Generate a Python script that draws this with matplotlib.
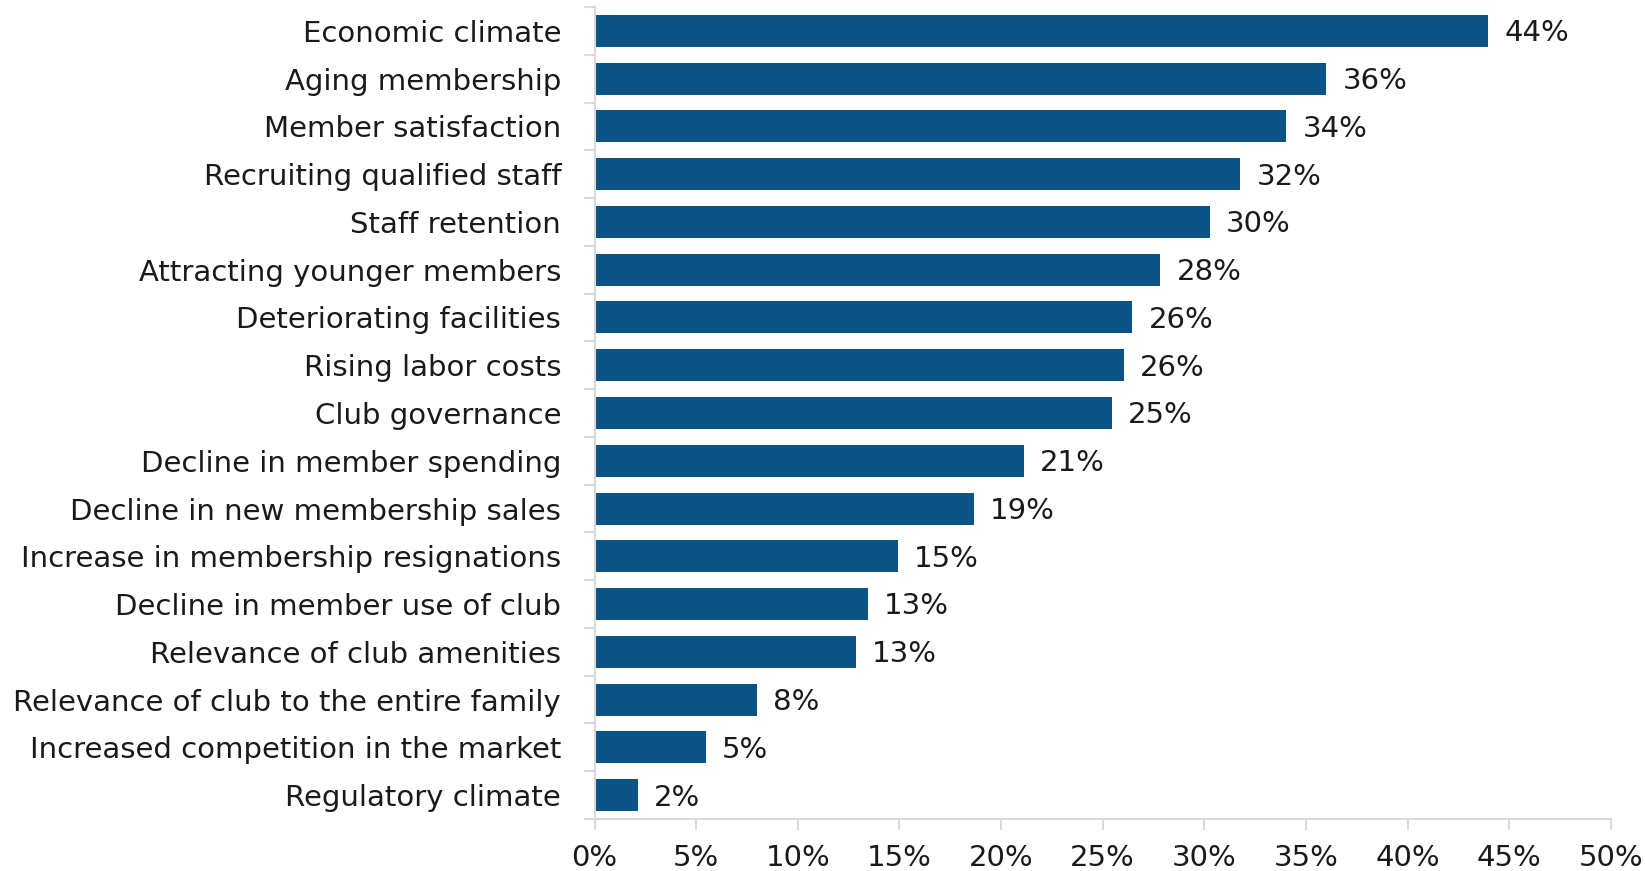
import numpy as np
import matplotlib.pyplot as plt
from matplotlib.ticker import FixedLocator, PercentFormatter

plt.rcParams['font.family'] = ['DejaVu Sans']

categorias = ['Economic climate', 'Aging membership', 'Member satisfaction',
              'Recruiting qualified staff', 'Staff retention',
              'Attracting younger members', 'Deteriorating facilities',
              'Rising labor costs', 'Club governance',
              'Decline in member spending', 'Decline in new membership sales',
              'Increase in membership resignations',
              'Decline in member use of club', 'Relevance of club amenities',
              'Relevance of club to the entire family',
              'Increased competition in the market', 'Regulatory climate']
valores = [43.96, 36.0, 34.04, 31.77, 30.27, 27.84, 26.45, 26.03, 25.46,
           21.13, 18.65, 14.93, 13.43, 12.86, 8.0, 5.48, 2.12]

azul = '#0b5384'
gris = '#d9d9d9'
texto = '#1a1a1a'
tam = 21

fig = plt.figure(figsize=(16.45, 8.71), dpi=100)
ax = fig.add_axes([0.3614, 0.0597, 0.9793 - 0.3614, 0.992 - 0.0597])

y = np.arange(len(categorias))
ax.barh(y, valores, height=0.67, color=azul)
for yi, v in zip(y, valores):
    ax.text(v + 0.8, yi + 0.05, '{:.0f}%'.format(v), va='center', ha='left',
            fontsize=tam, color=texto)

ax.set_ylim(len(categorias) - 0.5, -0.5)
ax.set_xlim(0, 50)
ax.set_yticks(y)
ax.set_yticklabels(categorias, fontsize=tam, color=texto)
ax.yaxis.set_minor_locator(FixedLocator(np.arange(-0.5, len(categorias), 1)))
ax.tick_params(axis='y', which='major', length=0, pad=24)
ax.tick_params(axis='y', which='minor', length=8, width=1.5, color=gris)

ax.set_xticks(np.arange(0, 51, 5))
ax.xaxis.set_major_formatter(PercentFormatter(decimals=0))
ax.tick_params(axis='x', length=8, width=1.5, color=gris, labelsize=tam,
               labelcolor=texto, pad=10)

for lado in ['top', 'right']:
    ax.spines[lado].set_visible(False)
for lado in ['left', 'bottom']:
    ax.spines[lado].set_color(gris)
    ax.spines[lado].set_linewidth(1.5)

fig.savefig('out.png', dpi=100)
